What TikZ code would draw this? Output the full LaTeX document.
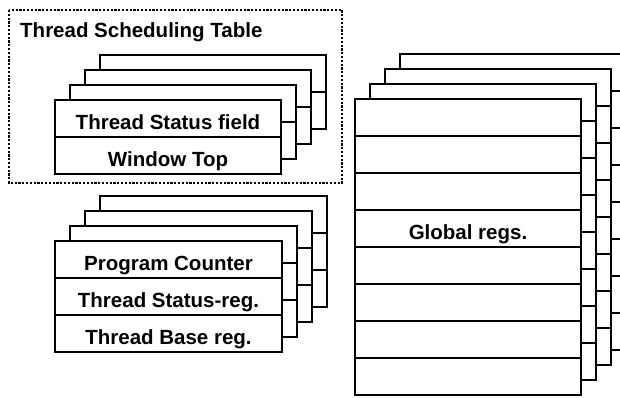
\documentclass[tikz,border=0pt]{standalone}
\usepackage{fontspec}
\setmainfont{Liberation Sans}

% one card of a register stack: name, x, y (top left), width, number of rows
\newcommand\blankcard[5]{%
  \foreach \r in {1,...,#5} {%
    \node[cell, minimum width=#4] (#1-\r) at (#2, {#3+37*(\r-1)}) {};
  }}

\tikzset{
  labelfont/.style={font=\bfseries\fontsize{20.5}{24}\selectfont},
  cell/.style={draw, fill=white, line width=2pt, minimum height=37pt,
    inner sep=0pt, anchor=north west, labelfont,
    text height=21pt, text depth=0pt},
  tablebox/.style={draw, line width=1.5pt, dash pattern=on 2.2pt off 1.6pt},
  titletext/.style={anchor=base west, inner sep=0pt, labelfont},
}

\begin{document}
\begin{tikzpicture}[x=1pt, y=-1pt]
\useasboundingbox (0,0) rectangle (620,397);
\clip (0,0) rectangle (620,397);

% Thread scheduling table: four stacked entries
\draw[tablebox] (9,10) rectangle (342,183);
\node[titletext] (tsttitle) at (20,37) {Thread Scheduling Table};
\blankcard{tstD}{99}{54}{226pt}{2}
\blankcard{tstC}{84}{69}{226pt}{2}
\blankcard{tstB}{69}{84}{226pt}{2}
\node[cell, minimum width=226pt] (tstfield) at (54,99) {Thread Status field};
\node[cell, minimum width=226pt] (tsttop) at (54,136) {Window Top};

% per-thread registers
\blankcard{thrD}{99}{195}{227pt}{3}
\blankcard{thrC}{84}{210}{227pt}{3}
\blankcard{thrB}{69}{225}{227pt}{3}
\node[cell, minimum width=227pt] (pc) at (54,240) {Program Counter};
\node[cell, minimum width=227pt] (tsreg) at (54,277) {Thread Status-reg.};
\node[cell, minimum width=227pt] (tbreg) at (54,314) {Thread Base reg.};

% global register windows
\blankcard{gloD}{399}{53}{226pt}{8}
\blankcard{gloC}{384}{68}{226pt}{8}
\blankcard{gloB}{369}{83}{226pt}{8}
\blankcard{gloA}{354}{98}{226pt}{8}
\node[labelfont, text height=21pt, text depth=0pt, inner sep=0pt]
  (globlabel) at (gloA-4.center) {Global regs.};
\end{tikzpicture}
\end{document}
